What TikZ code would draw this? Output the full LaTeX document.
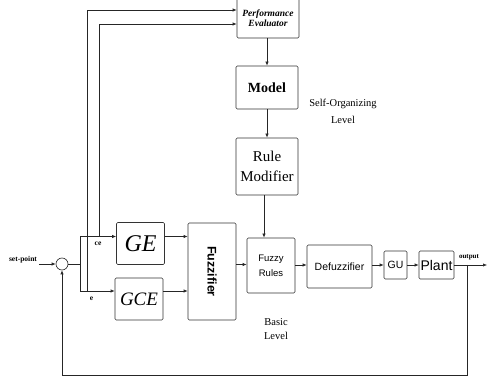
\documentclass[tikz,border=0pt]{standalone}
\usepackage{fontspec}
\setmainfont{Liberation Serif}
\setsansfont{Liberation Sans}
\usetikzlibrary{arrows.meta}
\tikzset{
  blk/.style={draw=black!80, line width=0.6pt, rounded corners=1.2pt, inner sep=0pt, align=center},
  ln/.style={draw=black!85, line width=0.6pt},
  arr/.style={ln, -{Latex[length=4pt,width=3.2pt]}},
  lbl/.style={inner sep=0pt, align=center}
}
\begin{document}
\begin{tikzpicture}[x=1pt,y=-1pt]
\useasboundingbox[fill=white] (0,0) rectangle (487,379);
% upper level
\node[blk, minimum width=62pt, minimum height=40pt, font=\bfseries\itshape\fontsize{9.5}{10.5}\selectfont] (pe) at (268,18) {Performance\\[0pt]Evaluator};
\node[blk, minimum width=62pt, minimum height=43pt, font=\bfseries\fontsize{14}{16}\selectfont] (model) at (267,87.5) {Model};
\node[blk, minimum width=62pt, minimum height=57pt, font=\fontsize{15}{20}\selectfont] (rm) at (267,166.5) {Rule\\Modifier};
% basic level
\node[blk, minimum width=48pt, minimum height=42pt, font=\itshape\fontsize{24}{26}\selectfont] (ge) at (140.5,243.5) {GE};
\node[blk, minimum width=48pt, minimum height=42pt, font=\itshape\fontsize{19}{21}\selectfont] (gce) at (139,299) {GCE};
\node[blk, minimum width=48pt, minimum height=97pt] (fz) at (212,271.5) {};
\node[lbl, rotate=-90, font=\sffamily\bfseries\fontsize{12.5}{14}\selectfont] (fztxt) at (fz.center) {Fuzzifier};
\node[blk, minimum width=48pt, minimum height=55pt, font=\sffamily\fontsize{9.5}{15}\selectfont] (fr) at (271,265.5) {Fuzzy\\Rules};
\node[blk, minimum width=65pt, minimum height=43pt, font=\sffamily\fontsize{10.5}{12}\selectfont] (df) at (339.5,266.5) {Defuzzifier};
\node[blk, minimum width=23pt, minimum height=28pt, font=\sffamily\fontsize{10.5}{12}\selectfont] (gu) at (395.5,265) {GU};
\node[blk, minimum width=35pt, minimum height=28pt, font=\sffamily\fontsize{14}{16}\selectfont] (plant) at (436.5,265) {Plant};
\node[draw=black!85, line width=0.6pt, circle, minimum size=12pt, inner sep=0pt] (sum) at (62,264) {};
% labels
\node[lbl, font=\bfseries\fontsize{7.5}{9}\selectfont] (sp) at (23,259.5) {set-point};
\node[lbl, font=\bfseries\fontsize{7}{8}\selectfont] (outl) at (469,257) {output};
\node[lbl, font=\bfseries\fontsize{7.5}{8}\selectfont] (cel) at (98,243.5) {ce};
\node[lbl, font=\bfseries\fontsize{7.5}{8}\selectfont] (el) at (91.5,298.5) {e};
\node[lbl, font=\fontsize{10.5}{17}\selectfont] (sol) at (343,111) {Self-Organizing\\Level};
\node[lbl, font=\fontsize{10.5}{14}\selectfont] (bl) at (276,329) {Basic\\Level};
% coordinates
\coordinate (spe) at (39,264);
\coordinate (br) at (80,264);
\coordinate (ej) at (87,291);
\coordinate (cej) at (99,236.5);
\coordinate (tap) at (467,265);
\coordinate (outend) at (487,265);
\coordinate (fbr) at (467,375.5);
\coordinate (fbl) at (62,375.5);
% connectors
\draw[arr] (spe) -- (sum.west);
\draw[ln] (sum.east) -- (br);
\draw[arr] (br) |- (ge.west |- cej);
\draw[arr] (br) |- (gce.west |- ej);
\draw[arr] (ge.east |- cej) -- (fz.west |- cej);
\draw[arr] (gce.east |- ej) -- (fz.west |- ej);
\draw[arr] (fz.east |- 0,264.5) -- (fr.west |- 0,264.5);
\draw[arr] (fr.east |- 0,265) -- (df.west |- 0,265);
\draw[arr] (df.east |- 0,265) -- (gu.west |- 0,265);
\draw[arr] (gu.east) -- (plant.west);
\draw[arr] (plant.east) -- (outend);
\draw[arr] (tap) -- (fbr) -- (fbl) -- (sum.south);
\draw[arr] (ej) -- (87,10) -- (pe.west |- 0,10);
\draw[arr] (cej) -- (99,24) -- (pe.west |- 0,24);
\draw[arr] (pe.south -| 267,0) -- (model.north -| 267,0);
\draw[arr] (model.south -| 267,0) -- (rm.north -| 267,0);
\draw[arr] (rm.south -| 264,0) -- (fr.north -| 264,0);
\end{tikzpicture}
\end{document}
